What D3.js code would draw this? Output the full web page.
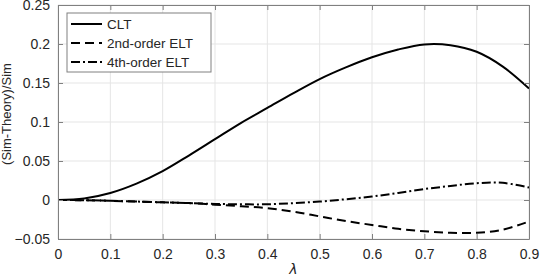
<!DOCTYPE html>
<html>
<head>
<meta charset="utf-8">
<script src="https://cdn.jsdelivr.net/npm/d3@7"></script>
<style>
  body { margin: 0; background: #fff; }
  text { font-family: "Liberation Sans", Arial, sans-serif; fill: #262626; }
</style>
</head>
<body>
<svg width="540" height="278"></svg>
<script>
// lambda values and relative errors
var lambda = [0, 0.05, 0.1, 0.15, 0.2, 0.25, 0.3, 0.35, 0.4, 0.45, 0.5, 0.55, 0.6, 0.65, 0.7, 0.75, 0.8, 0.85, 0.9];
var clt    = [0, 0.002, 0.009, 0.021, 0.037, 0.057, 0.078, 0.099, 0.118, 0.137, 0.155, 0.170, 0.183, 0.193, 0.1995, 0.1985, 0.190, 0.171, 0.143];
var elt2   = [0, -0.0003, -0.001, -0.002, -0.003, -0.004, -0.006, -0.008, -0.0105, -0.015, -0.021, -0.027, -0.032, -0.037, -0.040, -0.042, -0.042, -0.038, -0.0275];
var elt4   = [0, -0.0003, -0.001, -0.002, -0.003, -0.004, -0.005, -0.0055, -0.0055, -0.004, -0.002, 0.001, 0.0045, 0.009, 0.014, 0.018, 0.0215, 0.022, 0.016];
var seriesNames = ["CLT", "2nd-order ELT", "4th-order ELT"];
var xTicks = [0, 0.1, 0.2, 0.3, 0.4, 0.5, 0.6, 0.7, 0.8, 0.9];
var yTicks = [-0.05, 0, 0.05, 0.1, 0.15, 0.2, 0.25];

var svg = d3.select("svg"),
    margin = {top: 5, right: 11, bottom: 39, left: 58},
    width = +svg.attr("width") - margin.left - margin.right,
    height = +svg.attr("height") - margin.top - margin.bottom;

var g = svg.append("g")
    .attr("transform", "translate(" + margin.left + "," + margin.top + ")");

var x = d3.scaleLinear().domain([0, 0.9]).range([0, width]);
var y = d3.scaleLinear().domain([-0.05, 0.25]).range([height, 0]);

// grid
g.append("g").selectAll("line").data(xTicks).enter().append("line")
    .attr("x1", function (d) { return x(d); }).attr("x2", function (d) { return x(d); })
    .attr("y1", 0).attr("y2", height)
    .style("stroke", "#e5e5e5").style("stroke-width", 1);
g.append("g").selectAll("line").data(yTicks).enter().append("line")
    .attr("y1", function (d) { return y(d); }).attr("y2", function (d) { return y(d); })
    .attr("x1", 0).attr("x2", width)
    .style("stroke", "#e5e5e5").style("stroke-width", 1);

// series
var styles = [
    {data: clt, dash: null},
    {data: elt2, dash: "9,5"},
    {data: elt4, dash: "9,3,2,3"}
];

var line = d3.line()
    .x(function (d, i) { return x(lambda[i]); })
    .y(function (d) { return y(d); })
    .curve(d3.curveCatmullRom.alpha(0.5));

styles.forEach(function (s) {
    g.append("path")
        .attr("d", line(s.data))
        .style("fill", "none")
        .style("stroke", "#000")
        .style("stroke-width", 2)
        .style("stroke-dasharray", s.dash);
});

// axes (MATLAB-like box with inward ticks)
var fmt = function (d) { return d3.format("")(+d.toFixed(2)); };
var xAxis = g.append("g").attr("transform", "translate(0," + height + ")")
    .call(d3.axisBottom(x).tickValues(xTicks).tickSizeInner(-5).tickSizeOuter(0).tickPadding(10).tickFormat(fmt));
var yAxis = g.append("g")
    .call(d3.axisLeft(y).tickValues(yTicks).tickSizeInner(-5).tickSizeOuter(0).tickPadding(8).tickFormat(fmt));
var xTop = g.append("g")
    .call(d3.axisTop(x).tickValues(xTicks).tickSizeInner(-5).tickSizeOuter(0).tickFormat(""));
var yRight = g.append("g").attr("transform", "translate(" + width + ",0)")
    .call(d3.axisRight(y).tickValues(yTicks).tickSizeInner(-5).tickSizeOuter(0).tickFormat(""));

[xAxis, yAxis, xTop, yRight].forEach(function (a) {
    a.selectAll("path,line").style("stroke", "#808080");
    a.selectAll("text").style("font-size", "14px").style("fill", "#262626")
        .style("font-family", "'Liberation Sans', Arial, sans-serif");
});

// axis labels
svg.append("text")
    .attr("x", margin.left + width / 2)
    .attr("y", 274)
    .style("text-anchor", "middle")
    .style("font-size", "14px")
    .style("font-style", "italic")
    .style("font-family", "'DejaVu Sans', sans-serif")
    .text("λ");

svg.append("text")
    .attr("transform", "translate(10.5,114) rotate(-90)")
    .style("text-anchor", "middle")
    .style("font-size", "13px")
    .text("(Sim-Theory)/Sim");

// legend
var legend = g.append("g").attr("transform", "translate(9,8)");
legend.append("rect")
    .attr("width", 144).attr("height", 59)
    .style("fill", "#fff").style("stroke", "#808080").style("stroke-width", 1);

styles.forEach(function (s, i) {
    var ly = 11 + i * 19;
    legend.append("line")
        .attr("x1", 4).attr("x2", 35).attr("y1", ly).attr("y2", ly)
        .style("stroke", "#000").style("stroke-width", 2)
        .style("stroke-dasharray", s.dash);
    legend.append("text")
        .attr("x", 40).attr("y", ly).attr("dy", "0.35em")
        .style("font-size", "13.5px")
        .text(seriesNames[i]);
});
</script>
</body>
</html>
